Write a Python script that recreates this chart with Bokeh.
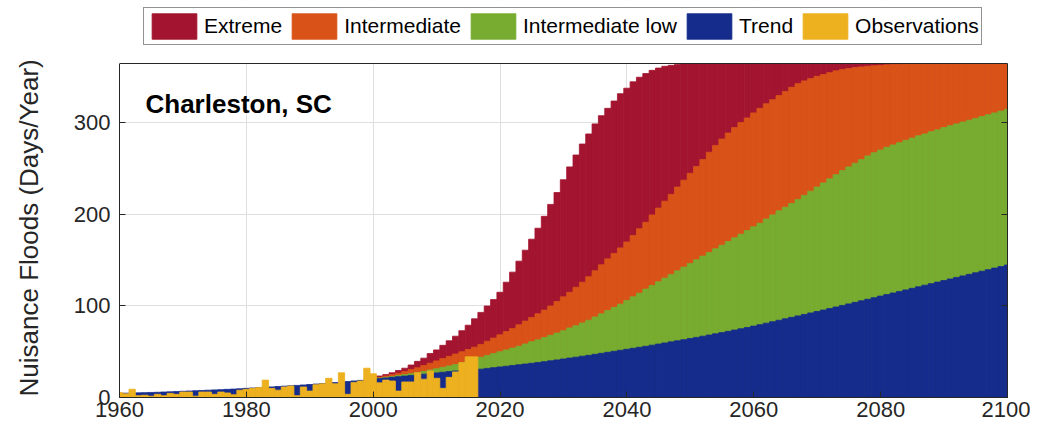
from bokeh.plotting import figure
from bokeh.models import (Range1d, FixedTicker, LinearAxis, Legend, LegendItem, Label,
                          BoxAnnotation, Span)
from bokeh.embed import file_html
from bokeh.resources import INLINE

# ---------------- data ----------------
years_all = list(range(1960, 2101))
years_obs = list(range(1960, 2017))
years_scen = list(range(2000, 2101))

x_ticks = [1960, 1980, 2000, 2020, 2040, 2060, 2080, 2100]
y_ticks = [0, 100, 200, 300]
y_max = 365

extreme = [
    22, 23.5, 25, 27, 29.5, 32, 35.5, 39.5, 43, 48,
    52, 57, 62, 67, 73, 79, 86, 93, 100, 107,
    115, 126, 137, 149, 161, 173, 185, 198, 211, 224,
    238, 252, 265, 277, 288, 299, 308, 316, 324, 332,
    338, 345, 350, 354, 357.5, 360, 362, 363, 364, 364.5,
    365, 365, 365, 365, 365, 365, 365, 365, 365, 365,
    365, 365, 365, 365, 365, 365, 365, 365, 365, 365,
    365, 365, 365, 365, 365, 365, 365, 365, 365, 365,
    365, 365, 365, 365, 365, 365, 365, 365, 365, 365,
    365, 365, 365, 365, 365, 365, 365, 365, 365, 365,
    365,
]

intermediate = [
    21, 22, 23.5, 25, 26.5, 28.5, 30.5, 32.5, 35, 37.5,
    40, 42.5, 45, 47.5, 50, 52.5, 55, 58, 61.5, 65,
    68.5, 72, 75.5, 79.5, 83.5, 87.5, 91.5, 95.5, 100, 105,
    110, 115, 120.5, 126, 132, 138.5, 145, 151.5, 157.5, 163.5,
    170, 177, 184.5, 191.5, 199.5, 207, 214.5, 222, 230, 237.5,
    245, 252.5, 260, 268, 275.5, 282.5, 289, 295, 300.5, 305.5,
    311, 316, 321, 325.5, 330, 334.5, 339, 343, 346, 348.5,
    351, 353, 355, 357, 358.5, 359.5, 360.5, 361.3, 362, 362.5,
    363, 363.5, 364, 364.3, 364.6, 365, 365, 365, 365, 365,
    365, 365, 365, 365, 365, 365, 365, 365, 365, 365,
    365,
]

intermediate_low = [
    20.5, 21.3, 22, 23, 24, 25, 26, 27, 28.5, 30,
    31.5, 33, 34.5, 36, 38, 40, 42, 44, 46, 48,
    50, 52, 54, 56, 58.5, 61, 63, 65.5, 68, 70.5,
    73, 76, 78.5, 81.5, 84.5, 88, 91.5, 95, 98.5, 102,
    106, 110, 114, 118.5, 122.5, 126.5, 130.5, 134.5, 138.5, 142.5,
    146.5, 150.5, 154.5, 158.5, 162.5, 166.5, 170.5, 174.5, 178.5, 182.5,
    186.5, 190.5, 195, 199.5, 204, 208, 212, 216.5, 221, 225.5,
    230, 234.5, 239, 243.5, 248, 252, 256, 260, 264, 267.5,
    270.5, 273.5, 276, 278.5, 281, 283.5, 286, 288, 290.5, 292.5,
    295, 297, 299, 301, 303, 305, 307, 309, 311, 313,
    315,
]

trend = [
    4.5, 4.7, 4.9, 5.1, 5.3, 5.5, 5.7, 6.0, 6.2, 6.5,
    6.8, 7.1, 7.4, 7.7, 8.0, 8.3, 8.6, 8.9, 9.2, 9.6,
    10.0, 10.4, 10.8, 11.2, 11.6, 12.0, 12.4, 12.8, 13.2, 13.7,
    14.2, 14.7, 15.2, 15.8, 16.3, 16.9, 17.5, 18.1, 18.7, 19.3,
    20.0, 20.6, 21.3, 22.0, 22.7, 23.4, 24.1, 24.8, 25.5, 26.2,
    26.9, 27.6, 28.3, 29.0, 29.7, 30.3, 30.7, 31.0, 31.8, 32.6,
    33.4, 34.2, 35.0, 35.8, 36.6, 37.4, 38.3, 39.2, 40.1, 41.1,
    42.1, 43.1, 44.1, 45.1, 46.1, 47.2, 48.3, 49.4, 50.5, 51.6,
    52.7, 53.8, 54.9, 56.0, 57.2, 58.4, 59.6, 60.8, 62.0, 63.2,
    64.4, 65.7, 67.0, 68.3, 69.6, 70.9, 72.3, 73.7, 75.1, 76.5,
    78.0, 79.6, 81.2, 82.8, 84.4, 86.0, 87.6, 89.2, 90.8, 92.4,
    94.0, 95.6, 97.2, 98.9, 100.6, 102.3, 104.0, 105.7, 107.4, 109.1,
    110.8, 112.5, 114.2, 115.9, 117.6, 119.3, 121.0, 122.7, 124.4, 126.1,
    127.8, 129.5, 131.2, 132.9, 134.6, 136.3, 138.0, 139.7, 141.4, 143.1,
    144.8,
]

observations = [
    5.5, 4, 9, 2, 2.5, 1.5, 3.5, 2, 4.5, 3.5,
    6, 6, 1.5, 6, 6, 3.5, 6, 5, 3, 8,
    9, 10, 11, 19, 10, 8, 11.5, 12.5, 2, 11.5,
    7, 14, 15, 21, 15, 27, 3.5, 16.5, 18, 32,
    26, 16, 19, 18, 7, 17, 17, 27, 20, 29,
    21, 10, 22, 28, 38, 44.5, 44.5,
]

series_names = ["Extreme", "Intermediate", "Intermediate low", "Trend", "Observations"]
series_colors = ["#A2142F", "#D95319", "#77AC30", "#152C8C", "#EDB120"]
y_label = "Nuisance Floods (Days/Year)"

# ---------------- figure ----------------
FONT = "Liberation Sans"
AX = "#262626"

W, H = 1030, 430
FRAME_TOP_GAP = 63           # px from canvas top to the axes box top
BOTTOM = 33
frame_h = H - BOTTOM
box_h = frame_h - FRAME_TOP_GAP
y_top = y_max * frame_h / box_h   # frame extends above the axes box to host legend

p = figure(width=W, height=H, output_backend="svg", toolbar_location=None,
           x_range=Range1d(1960, 2100), y_range=Range1d(0, y_top),
           min_border_left=119, min_border_right=23, min_border_top=0,
           min_border_bottom=BOTTOM, background_fill_color="white",
           border_fill_color="white")
p.outline_line_color = None

renderers = []
for xs, vals, col in [(years_scen, extreme, series_colors[0]),
                      (years_scen, intermediate, series_colors[1]),
                      (years_scen, intermediate_low, series_colors[2]),
                      (years_all, trend, series_colors[3]),
                      (years_obs, observations, series_colors[4])]:
    r = p.vbar(x=xs, top=vals, bottom=0, width=1.0,
               fill_color=col, line_color=col, line_width=0.8)
    renderers.append(r)

# axes
for ax in [p.xaxis[0], p.yaxis[0]]:
    ax.axis_line_color = AX
    ax.major_tick_line_color = AX
    ax.minor_tick_line_color = None
    ax.major_tick_in = 6
    ax.major_tick_out = 0
    ax.major_label_text_font = FONT
    ax.major_label_text_font_size = "22px"
    ax.major_label_text_color = AX

p.xaxis[0].ticker = FixedTicker(ticks=x_ticks)
p.yaxis[0].ticker = FixedTicker(ticks=y_ticks)
p.yaxis[0].bounds = (0, y_max)
p.xaxis[0].major_label_standoff = 4
p.yaxis[0].major_label_standoff = 9
# the label is centred on the full frame, which extends above the axes box;
# trailing no-break spaces shift the visible words down to the box centre
p.yaxis[0].axis_label = y_label + "\u00a0" * 8
p.yaxis[0].axis_label_text_font = FONT
p.yaxis[0].axis_label_text_font_size = "26px"
p.yaxis[0].axis_label_text_font_style = "normal"
p.yaxis[0].axis_label_text_color = AX
p.yaxis[0].axis_label_standoff = 27

right_ax = LinearAxis(ticker=FixedTicker(ticks=y_ticks), bounds=(0, y_max),
                      major_tick_in=6, major_tick_out=0,
                      minor_tick_line_color=None, axis_line_color=AX,
                      major_tick_line_color=AX, major_label_text_font_size="1px",
                      major_label_text_color=None, major_label_standoff=0)
p.add_layout(right_ax, "right")

p.xgrid.ticker = FixedTicker(ticks=x_ticks)
p.ygrid.ticker = FixedTicker(ticks=y_ticks)
p.xgrid.grid_line_color = "#dfdfdf"
p.ygrid.grid_line_color = "#dfdfdf"

# white area above the axes box (hosts the legend), and top edge of the box
p.add_layout(BoxAnnotation(bottom=y_max, fill_color="white", fill_alpha=1.0,
                           line_color=None))
p.add_layout(Span(location=y_max, dimension="width", line_color=AX, line_width=1))

# location title inside the axes box
p.add_layout(Label(x=1964.1, y=321, text="Charleston, SC", text_font=FONT,
                   text_font_style="bold", text_font_size="26px",
                   text_baseline="alphabetic", text_color="black"))

legend = Legend(items=[LegendItem(label=n, renderers=[r]) for n, r in zip(series_names, renderers)],
                orientation="horizontal", location=(24, frame_h - 45),
                glyph_width=56, glyph_height=32, padding=2, spacing=4, label_standoff=2,
                label_text_font=FONT, label_text_font_size="21px", label_text_color="black",
                border_line_color=AX, border_line_width=1, background_fill_color="white",
                background_fill_alpha=1, margin=0)
p.add_layout(legend)

open("out.html", "w").write(file_html(p, INLINE))
